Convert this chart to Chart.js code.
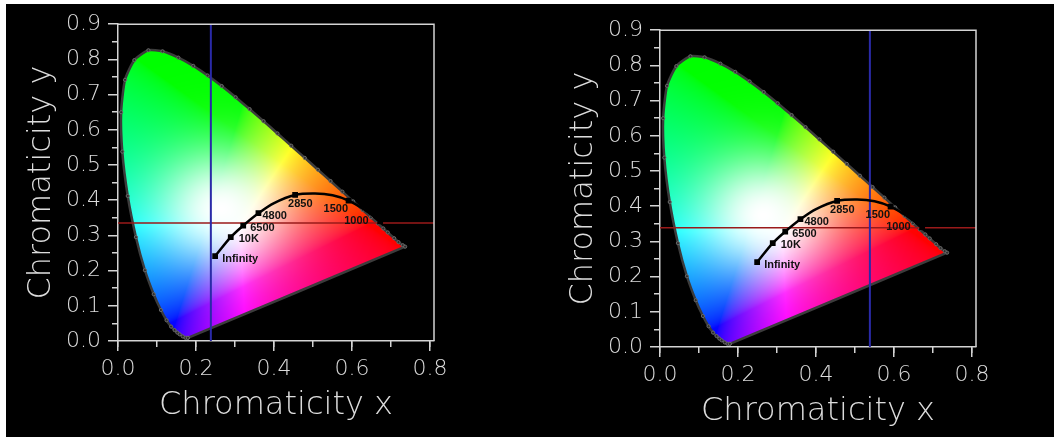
<!DOCTYPE html>
<html>
<head>
<meta charset="utf-8">
<script src="https://cdn.jsdelivr.net/npm/chart.js@4.4.1/dist/chart.umd.min.js"></script>
<style>
  html, body { margin: 0; padding: 0; background: #fff; overflow: hidden; }
  #wrap { position: absolute; left: 6px; top: 4px; width: 1048px; height: 433px; background: #000; overflow: hidden; }
  canvas { position: absolute; }
  #c1 { left: 0; top: 0; }
  #c2 { left: 542px; top: 6px; }
</style>
</head>
<body>
<div id="wrap">
  <canvas id="c1" width="448" height="433"></canvas>
  <canvas id="c2" width="448" height="433"></canvas>
</div>
<script>
// spectral locus, 380 -> 700 nm, closed back to 380 by the purple line
const locusX = [0.1790, 0.1730, 0.1660, 0.1580, 0.1520, 0.1450, 0.1360, 0.1245, 0.1100, 0.0915,
  0.0690, 0.0460, 0.0250, 0.0110, 0.0080, 0.0180, 0.0420, 0.0780, 0.1142, 0.1547,
  0.1929, 0.2296, 0.2658, 0.3016, 0.3373, 0.3731, 0.4087, 0.4441, 0.4788, 0.5125,
  0.5448, 0.5752, 0.6029, 0.6270, 0.6482, 0.6658, 0.6801, 0.6915, 0.7079, 0.7190,
  0.7300, 0.7360, 0.1790];
const locusY = [0.0090, 0.0090, 0.0130, 0.0190, 0.0240, 0.0310, 0.0410, 0.0590, 0.0880, 0.1330,
  0.2010, 0.2950, 0.4120, 0.5380, 0.6500, 0.7420, 0.7980, 0.8260, 0.8230, 0.8050,
  0.7816, 0.7543, 0.7243, 0.6923, 0.6589, 0.6245, 0.5896, 0.5547, 0.5202, 0.4866,
  0.4544, 0.4242, 0.3965, 0.3725, 0.3514, 0.3340, 0.3197, 0.3083, 0.2920, 0.2809,
  0.2720, 0.2680, 0.0090];

// black body curve
const planckX = [0.249, 0.289, 0.321, 0.360, 0.400, 0.454, 0.505, 0.550, 0.591, 0.632, 0.672];
const planckY = [0.241, 0.295, 0.328, 0.363, 0.392, 0.415, 0.419, 0.414, 0.399, 0.373, 0.340];
const planckLabels = ['Infinity', '10K', '6500', '4800', '', '2850', '', '', '1500', '', '1000'];

// cursor of each panel (left, right)
const cursorX = [0.238, 0.538];
const cursorY = [0.335, 0.339];

// ticks
const xTickValues = [0, 0.2, 0.4, 0.6, 0.8];
const xMinorValues = [0, 0.1, 0.2, 0.3, 0.4, 0.5, 0.6, 0.7, 0.8];
const yTickValues = [0, 0.1, 0.2, 0.3, 0.4, 0.5, 0.6, 0.7, 0.8, 0.9];
const yMinorValues = [0.05, 0.15, 0.25, 0.35, 0.45, 0.55, 0.65, 0.75, 0.85];

const AXIS = '#d4d4d4';
const TEXT = '#dcdcdc';
const FONT = "'DejaVu Sans', 'Liberation Sans', sans-serif";

// colour of a chromaticity point (Y = 1), brightened towards white in the middle
function chromaColor(x, y) {
  const X = x / y, Z = (1 - x - y) / y;
  let r = Math.max(3.2406 * X - 1.5372 - 0.4986 * Z, 0);
  let g = Math.max(-0.9689 * X + 1.8758 + 0.0415 * Z, 0);
  let b = Math.max(0.0557 * X - 0.2040 + 1.0570 * Z, 0);
  const m = Math.max(r, g, b) || 1;
  r /= m; g /= m; b /= m;
  const dx = x - 0.265, dy = y - 0.375;
  const w = Math.exp(-(dx * dx + dy * dy) / 0.017);
  r += (1 - r) * w; g += (1 - g) * w; b += (1 - b) * w;
  const gam = c => Math.pow(c, 1 / 1.8) * 255;
  return [gam(r), gam(g), gam(b)];
}

const gamutFill = {
  id: 'gamutFill',
  beforeDatasetsDraw(chart) {
    const idx = chart.data.datasets.findIndex(d => d.label === 'locus');
    const pts = chart.getDatasetMeta(idx).data;
    const a = chart.chartArea;
    const xs = chart.scales.x, ys = chart.scales.y;
    const w = Math.round(a.right - a.left), h = Math.round(a.bottom - a.top);
    const off = document.createElement('canvas');
    off.width = w; off.height = h;
    const octx = off.getContext('2d');
    const img = octx.createImageData(w, h);
    for (let j = 0; j < h; j++) {
      const yv = ys.getValueForPixel(a.top + j + 0.5);
      for (let i = 0; i < w; i++) {
        const xv = xs.getValueForPixel(a.left + i + 0.5);
        const k = (j * w + i) * 4;
        if (yv <= 0.001) { img.data[k + 3] = 0; continue; }
        const c = chromaColor(xv, yv);
        img.data[k] = c[0]; img.data[k + 1] = c[1]; img.data[k + 2] = c[2]; img.data[k + 3] = 255;
      }
    }
    octx.putImageData(img, 0, 0);
    const ctx = chart.ctx;
    ctx.save();
    ctx.beginPath();
    pts.forEach((p, i) => i ? ctx.lineTo(p.x, p.y) : ctx.moveTo(p.x, p.y));
    ctx.closePath();
    ctx.clip();
    ctx.drawImage(off, a.left, a.top);
    ctx.restore();
  },
  afterDatasetsDraw(chart, args, opts) {
    const ctx = chart.ctx;
    const a = chart.chartArea;
    // top and right edges of the frame
    ctx.save();
    ctx.strokeStyle = AXIS;
    ctx.lineWidth = 1.5;
    ctx.beginPath();
    ctx.moveTo(a.left, a.top);
    ctx.lineTo(a.right, a.top);
    ctx.lineTo(a.right, a.bottom);
    ctx.stroke();
    // temperature labels
    const idx = chart.data.datasets.findIndex(d => d.label === 'planck');
    const pts = chart.getDatasetMeta(idx).data;
    ctx.fillStyle = '#111';
    ctx.font = "bold 11px 'Liberation Sans', Arial, sans-serif";
    ctx.textBaseline = 'middle';
    ctx.textAlign = 'left';
    planckLabels.forEach((lab, i) => {
      if (!lab) return;
      const o = opts.offsets[lab] || [6, 0];
      ctx.fillText(lab, pts[i].x + o[0], pts[i].y + o[1]);
    });
    ctx.restore();
  }
};

function pairs(xs, ys) {
  return xs.map((x, i) => ({ x: x, y: ys[i] }));
}

function makeChart(id, panel) {
  const xMax = 0.81, yMax = 0.9;
  const majorGrid = { drawOnChartArea: false, tickLength: 10, color: AXIS, lineWidth: 1.5 };
  const minorGrid = { drawOnChartArea: false, tickLength: 6, color: AXIS, lineWidth: 1.5 };
  const tickFont = { family: FONT, size: 22, weight: '200' };
  const titleFont = { family: FONT, size: 32, weight: '200' };

  return new Chart(document.getElementById(id), {
    type: 'scatter',
    data: {
      datasets: [
        {
          label: 'planck',
          data: pairs(planckX, planckY),
          showLine: true,
          borderColor: '#000',
          borderWidth: 2.5,
          tension: 0.35,
          pointStyle: 'rect',
          pointRadius: planckLabels.map(l => l ? 2.3 : 0),
          pointBackgroundColor: '#000',
          pointBorderColor: '#000',
          xAxisID: 'x', yAxisID: 'y'
        },
        {
          label: 'cursorV',
          data: [{ x: cursorX[panel], y: 0 }, { x: cursorX[panel], y: yMax }],
          showLine: true,
          borderColor: '#2a2aa8',
          borderWidth: 2,
          pointRadius: 0,
          xAxisID: 'x', yAxisID: 'y'
        },
        {
          label: 'cursorH',
          data: [{ x: 0, y: cursorY[panel] }, { x: xMax, y: cursorY[panel] }],
          showLine: true,
          borderColor: '#9a1a1a',
          borderWidth: 1.5,
          pointRadius: 0,
          xAxisID: 'x', yAxisID: 'y'
        },
        {
          label: 'locus',
          data: pairs(locusX, locusY),
          showLine: true,
          borderColor: '#3c3c3c',
          borderWidth: 2.5,
          tension: 0.2,
          pointRadius: 1.6,
          pointBackgroundColor: '#2e2e2e',
          pointBorderColor: '#6a6a6a',
          pointBorderWidth: 1,
          xAxisID: 'x', yAxisID: 'y'
        }
      ]
    },
    options: {
      responsive: false,
      animation: false,
      events: [],
      layout: { padding: { top: 19, right: 20, left: 0, bottom: 0 } },
      plugins: {
        legend: { display: false },
        tooltip: { enabled: false },
        gamutFill: {
          offsets: {
            'Infinity': [7, 3], '10K': [8, 2], '6500': [7, 2], '4800': [4, 3],
            '2850': [-7, 9], '1500': [-25, 8], '1000': [-36, 0]
          }
        }
      },
      scales: {
        x: {
          type: 'linear', position: 'bottom', weight: 1,
          min: 0, max: xMax,
          afterBuildTicks: s => { s.ticks = xTickValues.map(v => ({ value: v })); },
          afterFit: s => { s.height = 96; },
          grid: majorGrid,
          border: { display: true, color: AXIS, width: 1.5 },
          ticks: { color: TEXT, font: tickFont, padding: 5, maxRotation: 0, autoSkip: false,
            callback: v => v.toFixed(1) },
          title: { display: true, text: 'Chromaticity x', color: TEXT, font: titleFont,
            padding: { top: 0, bottom: 12 } }
        },
        xMinor: {
          type: 'linear', axis: 'x', position: 'bottom', weight: 0,
          min: 0, max: xMax,
          afterBuildTicks: s => { s.ticks = xMinorValues.map(v => ({ value: v })); },
          afterFit: s => { s.height = 0; },
          grid: minorGrid,
          border: { display: false },
          ticks: { display: false }
        },
        y: {
          type: 'linear', position: 'left', weight: 1,
          min: 0, max: yMax,
          afterBuildTicks: s => { s.ticks = yTickValues.map(v => ({ value: v })); },
          afterFit: s => { s.width = 112; },
          grid: majorGrid,
          border: { display: true, color: AXIS, width: 1.5 },
          ticks: { color: TEXT, font: tickFont, padding: 7, autoSkip: false,
            callback: v => v.toFixed(1) },
          title: { display: true, text: 'Chromaticity y', color: TEXT, font: titleFont,
            padding: { top: 16, bottom: 0 } }
        },
        yMinor: {
          type: 'linear', axis: 'y', position: 'left', weight: 0,
          min: 0, max: yMax,
          afterBuildTicks: s => { s.ticks = yMinorValues.map(v => ({ value: v })); },
          afterFit: s => { s.width = 0; },
          grid: minorGrid,
          border: { display: false },
          ticks: { display: false }
        }
      }
    },
    plugins: [gamutFill]
  });
}

makeChart('c1', 0);
makeChart('c2', 1);
</script>
</body>
</html>
